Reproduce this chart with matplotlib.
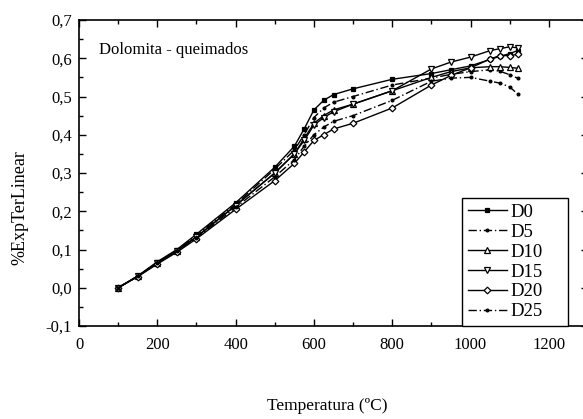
import matplotlib
matplotlib.use("Agg")
import matplotlib.pyplot as plt
from matplotlib.ticker import MultipleLocator, FuncFormatter

plt.rcParams['font.family'] = ['Liberation Serif', 'DejaVu Serif']

temps = [100, 150, 200, 250, 300, 400, 500, 550, 575, 600, 625, 650, 700,
         800, 900, 950, 1000, 1050, 1075, 1100, 1120]

d0  = [0, 0.031, 0.068, 0.100, 0.140, 0.222, 0.315, 0.370, 0.415, 0.465, 0.490,
       0.505, 0.520, 0.545, 0.560, 0.570, 0.580, 0.597, 0.605, 0.612, 0.620]
d5  = [0, 0.030, 0.066, 0.098, 0.137, 0.218, 0.310, 0.360, 0.400, 0.445, 0.470,
       0.485, 0.500, 0.530, 0.548, 0.558, 0.565, 0.570, 0.566, 0.557, 0.548]
d10 = [0, 0.030, 0.065, 0.097, 0.133, 0.215, 0.300, 0.350, 0.390, 0.430, 0.450,
       0.465, 0.480, 0.515, 0.550, 0.565, 0.575, 0.578, 0.578, 0.576, 0.574]
d15 = [0, 0.030, 0.065, 0.097, 0.133, 0.215, 0.300, 0.350, 0.385, 0.425, 0.445,
       0.460, 0.480, 0.515, 0.572, 0.590, 0.603, 0.620, 0.625, 0.630, 0.627]
d20 = [0, 0.029, 0.062, 0.093, 0.128, 0.205, 0.280, 0.325, 0.355, 0.385, 0.400,
       0.415, 0.430, 0.470, 0.530, 0.555, 0.575, 0.598, 0.607, 0.607, 0.610]
d25 = [0, 0.030, 0.064, 0.095, 0.130, 0.210, 0.290, 0.335, 0.370, 0.400, 0.420,
       0.435, 0.450, 0.490, 0.540, 0.548, 0.550, 0.540, 0.535, 0.525, 0.507]

labels = ["D0", "D5", "D10", "D15", "D20", "D25"]
series = [d0, d5, d10, d15, d20, d25]
styles = [
    dict(ls='-', marker='s', ms=2.8, mfc='black'),
    dict(ls=(0, (6, 2, 1, 2)), marker='o', ms=2, mfc='black'),
    dict(ls='-', marker='^', ms=4.2, mfc='white'),
    dict(ls='-', marker='v', ms=4.2, mfc='white'),
    dict(ls='-', marker='D', ms=3.4, mfc='white'),
    dict(ls=(0, (6, 2, 1, 2)), marker='o', ms=2, mfc='black'),
]

fig = plt.figure(figsize=(5.83, 4.19), dpi=100)
ax = fig.add_axes([79/583, (419-326)/419, (588-79)/583, (326-20)/419])

for lab, ys, st in zip(labels, series, styles):
    ax.plot(temps, ys, color='black', lw=1.0, mec='black', mew=0.9, label=lab, **st)

ax.set_xlim(0, 1300)
ax.set_ylim(-0.1, 0.7)
ax.xaxis.set_major_locator(MultipleLocator(200))
ax.xaxis.set_minor_locator(MultipleLocator(100))
ax.yaxis.set_major_locator(MultipleLocator(0.1))
ax.yaxis.set_minor_locator(MultipleLocator(0.05))
ax.yaxis.set_major_formatter(FuncFormatter(lambda v, p: f"{v:.1f}".replace('.', ',').replace('-0,0', '0,0')))
ax.tick_params(which='both', direction='in', top=True, right=True, labelsize=12)
ax.tick_params(axis='x', which='major', pad=8)
ax.tick_params(axis='y', which='major', pad=5)
ax.tick_params(which='major', length=5, width=1.0)
ax.tick_params(which='minor', length=3, width=1.0)
for s in ax.spines.values():
    s.set_linewidth(1.2)

ax.set_xlabel("Temperatura (ºC)", fontsize=12.5)
ax.xaxis.set_label_coords(0.487, -0.235)
ax.set_ylabel("%ExpTerLinear", fontsize=13)
ax.yaxis.set_label_coords(-0.1, 0.386)
ax.text(0.04, 0.89, "Dolomita - queimados", transform=ax.transAxes, fontsize=12)

leg = ax.legend(loc='lower left', bbox_to_anchor=(0.7525, 0.0, 0.208, 0.1),
                mode='expand', fontsize=13.5,
                frameon=True, fancybox=False, edgecolor='black', framealpha=1,
                handlelength=2.1, labelspacing=0.15, borderpad=0.3, handletextpad=0.2,
                borderaxespad=0.0)
leg.get_frame().set_linewidth(1.0)

fig.savefig("out.png", dpi=100)
